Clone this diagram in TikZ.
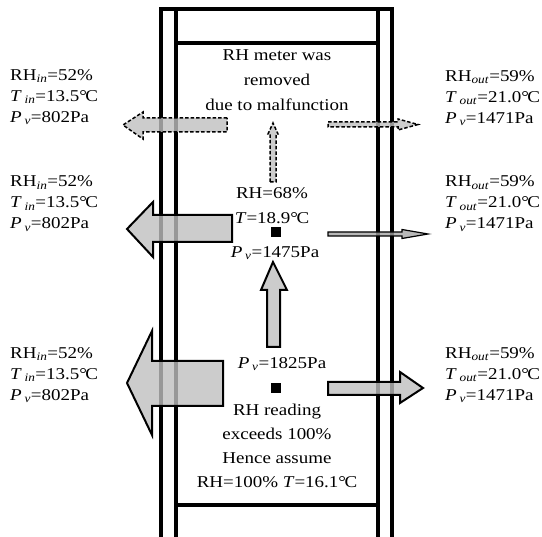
\documentclass[tikz,border=0pt]{standalone}
\usepackage{fontspec}
\setmainfont{Liberation Serif}[FakeStretch=1.15]
\usetikzlibrary{positioning}
\newcommand{\Pvap}{\textit{P}\,\textsubscript{\textit{v}}}
\newcommand{\RHsub}[1]{RH\textsubscript{\textit{#1}}}
\newcommand{\Tsub}[1]{\textit{T}\,\textsubscript{\textit{#1}}}
\newcommand{\degC}{°\kern-1.5pt C}

\begin{document}
\begin{tikzpicture}[x=1pt,y=-1pt,line join=miter,
                    every node/.style={inner sep=0pt, font=\fontsize{16.5}{21}\selectfont},
                    wall/.style={line width=3.2pt},
                    flow/.style={draw=black, line width=2pt, fill=gray!50, fill opacity=0.8},
                    leak/.style={flow, line width=1.5pt, dash pattern=on 3.5pt off 2pt},
                    sensor/.style={fill=black, minimum size=10pt}]
\useasboundingbox (0,0) rectangle (542,537);
% wall section
\draw[wall] (161,537) -- (161,9) -- (392,9) -- (392,537);
\draw[wall] (176,537) -- (176,9);
\draw[wall] (378,537) -- (378,9);
\draw[wall] (176,43) -- (378,43);
\draw[wall] (176,505) -- (378,505);
% moisture flows
\draw[leak] (227,118) -- (143,118) -- (143,112) -- (123,125) -- (143,139) -- (143,132) -- (227,132) -- cycle;
\draw[leak] (328,122) -- (398,122) -- (398,119) -- (418,124.5) -- (398,130) -- (398,127) -- (328,127) -- cycle;
\draw[leak] (270,182) -- (270,134) -- (268,134) -- (273,123) -- (278,134) -- (276,134) -- (276,182) -- cycle;
\draw[flow] (232,215) -- (153,215) -- (153,202) -- (127,229) -- (153,257) -- (153,242) -- (232,242) -- cycle;
\draw[flow, line width=1.2pt, fill=gray!70] (328,232) -- (402,232) -- (402,229.5) -- (428,234) -- (402,238.5) -- (402,236) -- (328,236) -- cycle;
\draw[flow] (267,347) -- (267,290) -- (261,290) -- (273,262) -- (287,290) -- (280,290) -- (280,347) -- cycle;
\draw[flow] (223,361) -- (152,361) -- (152,331) -- (127,383) -- (152,435) -- (152,406) -- (223,406) -- cycle;
\draw[flow] (328,382) -- (400,382) -- (400,372) -- (423,388) -- (400,403) -- (400,395) -- (328,395) -- cycle;
% sensors
\node[sensor] (s2) at (276,232) {};
\node[sensor] (s3) at (276,388) {};
% indoor side
\node[anchor=west, align=left] (in1) at (10,97) {\RHsub{in}=52\%\\ \Tsub{in}=13.5\degC\\ \Pvap=802Pa};
\node[anchor=west, align=left] (in2) at (10,203.5) {\RHsub{in}=52\%\\ \Tsub{in}=13.5\degC\\ \Pvap=802Pa};
\node[anchor=west, align=left] (in3) at (10,375) {\RHsub{in}=52\%\\ \Tsub{in}=13.5\degC\\ \Pvap=802Pa};
% outdoor side
\node[anchor=west, align=left] (out1) at (445,98) {\RHsub{out}=59\%\\ \Tsub{out}=21.0\degC\\ \Pvap=1471Pa};
\node[anchor=west, align=left] (out2) at (445,203.5) {\RHsub{out}=59\%\\ \Tsub{out}=21.0\degC\\ \Pvap=1471Pa};
\node[anchor=west, align=left] (out3) at (445,375) {\RHsub{out}=59\%\\ \Tsub{out}=21.0\degC\\ \Pvap=1471Pa};
% inside the wall
\node[align=center, font=\fontsize{16.5}{25}\selectfont] (note1) at (277,80) {RH meter was\\ removed\\ due to malfunction};
\node[align=center, font=\fontsize{16.5}{25}\selectfont] (read2) at (272,205.5) {RH=68\%\\ \textit{T}=18.9\degC};
\node (pv2) at (275,253) {\Pvap=1475Pa};
\node (pv3) at (282,364) {\Pvap=1825Pa};
\node[align=center, font=\fontsize{16.5}{24}\selectfont] (note3) at (277,446) {RH reading\\ exceeds 100\%\\ Hence assume\\ RH=100\% \textit{T}=16.1\degC};
\end{tikzpicture}
\end{document}
